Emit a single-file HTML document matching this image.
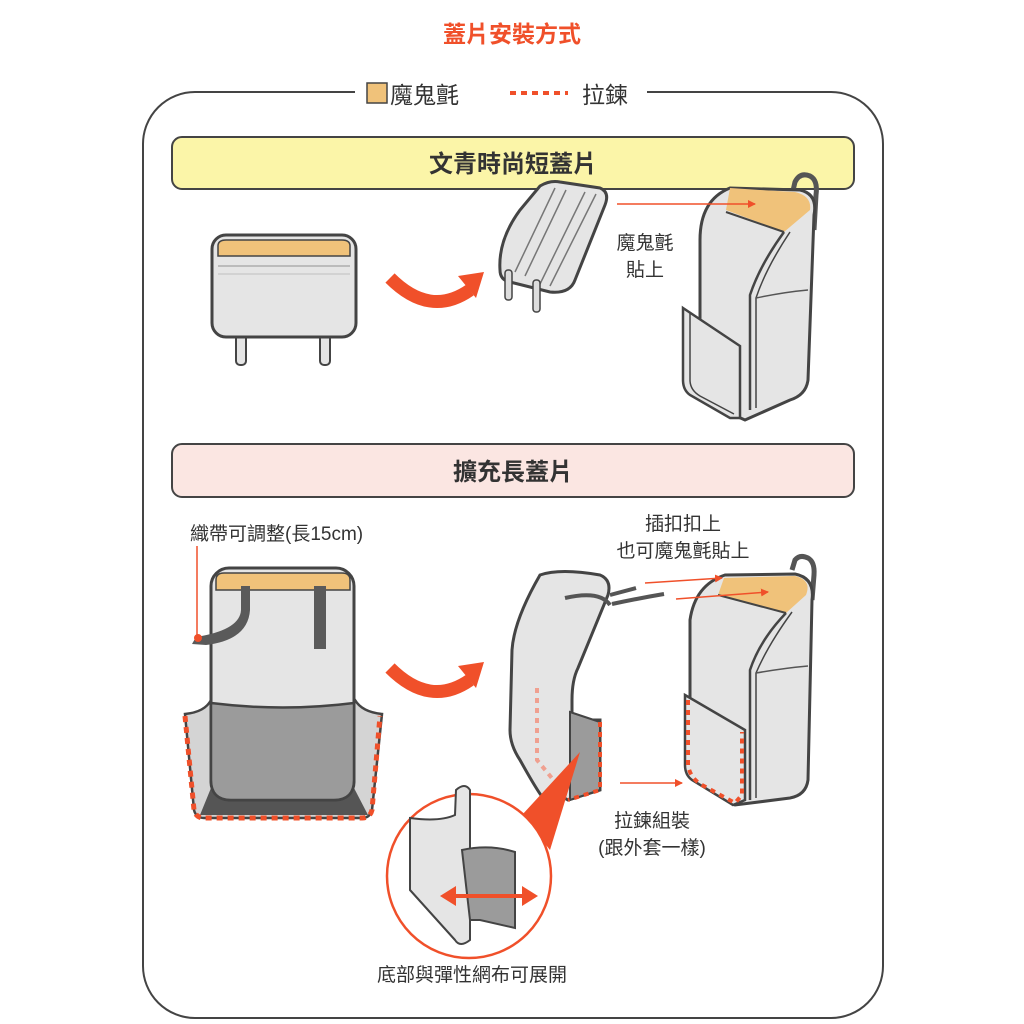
<!DOCTYPE html>
<html><head><meta charset="utf-8"><style>
body{margin:0;background:#fff;}
svg{display:block;}
text{font-family:"Liberation Sans","Noto Sans CJK TC",sans-serif;}
</style></head><body>
<svg width="1024" height="1024" viewBox="0 0 1024 1024" xmlns="http://www.w3.org/2000/svg">
<defs>
<marker id="ah" markerWidth="8" markerHeight="8" refX="7" refY="4" orient="auto" markerUnits="userSpaceOnUse"><path d="M0,0 L8,4 L0,8z" fill="#f0502a"/></marker>
</defs>
<text x="512" y="42" font-size="23" font-weight="bold" fill="#f0502a" text-anchor="middle">蓋片安裝方式</text>
<rect x="143" y="92" width="740" height="926" rx="52" fill="none" stroke="#444" stroke-width="2"/>
<rect x="355" y="80" width="292" height="28" fill="#fff"/>
<rect x="367" y="83" width="20" height="20" fill="#f0c27a" stroke="#444" stroke-width="1.5"/>
<text x="390" y="103" font-size="23" fill="#333">魔鬼氈</text>
<line x1="510" y1="93" x2="568" y2="93" stroke="#f0502a" stroke-width="4" stroke-dasharray="6,5"/>
<text x="582" y="103" font-size="23" fill="#333">拉鍊</text>

<rect x="172" y="137" width="682" height="52" rx="10" fill="#fbf5a8" stroke="#444" stroke-width="2"/>
<text x="513" y="172" font-size="24" font-weight="bold" fill="#333" text-anchor="middle">文青時尚短蓋片</text>
<rect x="172" y="444" width="682" height="53" rx="10" fill="#fbe6e2" stroke="#444" stroke-width="2"/>
<text x="513" y="480" font-size="24" font-weight="bold" fill="#333" text-anchor="middle">擴充長蓋片</text>

<!-- short flap -->
<rect x="236" y="330" width="10" height="35" rx="4" fill="#e5e5e5" stroke="#444" stroke-width="2"/>
<rect x="320" y="330" width="10" height="35" rx="4" fill="#e5e5e5" stroke="#444" stroke-width="2"/>
<rect x="212" y="235" width="144" height="102" rx="14" fill="#e5e5e5" stroke="#444" stroke-width="3"/>
<path d="M218,256 L218,246 Q218,240 226,240 L342,240 Q350,240 350,246 L350,256Z" fill="#f0c27a" stroke="#444" stroke-width="1.5"/>
<line x1="218" y1="266" x2="350" y2="266" stroke="#bbb" stroke-width="2"/>
<line x1="218" y1="274" x2="350" y2="274" stroke="#ccc" stroke-width="1.5"/>

<!-- curved arrows -->
<path d="M390,278 Q430,318 470,290" fill="none" stroke="#f0502a" stroke-width="13"/>
<path d="M458,276 L484,272 L476,298Z" fill="#f0502a"/>
<path d="M390,668 Q430,708 470,680" fill="none" stroke="#f0502a" stroke-width="13"/>
<path d="M458,666 L484,662 L476,688Z" fill="#f0502a"/>

<!-- tilted short flap -->
<path d="M500,270 Q498,240 520,210 L540,186 Q550,180 560,182 L600,188 Q610,192 605,205 L575,280 Q570,294 550,292 L510,282 Q500,280 500,270Z" fill="#e5e5e5" stroke="#444" stroke-width="3"/>
<path d="M515,272 L555,188 M525,276 L566,190 M540,284 L585,192 M550,286 L596,194" stroke="#777" stroke-width="1.5" fill="none"/>
<rect x="505" y="270" width="7" height="30" rx="3" fill="#ddd" stroke="#444" stroke-width="1.5"/>
<rect x="533" y="280" width="7" height="32" rx="3" fill="#ddd" stroke="#444" stroke-width="1.5"/>

<text x="645" y="249" font-size="19" fill="#333" text-anchor="middle">魔鬼氈</text>
<text x="645" y="276" font-size="19" fill="#333" text-anchor="middle">貼上</text>

<!-- backpack top -->
<path d="M792,195 L795,182 Q800,172 810,176 Q818,180 816,195 L814,230" fill="none" stroke="#555" stroke-width="5"/>
<path d="M700,240 Q700,200 730,188 L800,190 Q818,194 814,215 L808,380 Q806,395 790,400 L745,420 L700,400Z" fill="#e5e5e5" stroke="#444" stroke-width="3"/>
<path d="M760,190 L795,192 Q812,196 810,210 L784,232 L726,210 L730,188Z" fill="#f0c27a"/>
<path d="M726,212 L784,232" stroke="#444" stroke-width="2"/>
<path d="M784,232 Q760,265 750,295 L750,410" stroke="#444" stroke-width="2.5" fill="none"/>
<path d="M790,232 Q766,268 756,298 L756,408" stroke="#444" stroke-width="1.5" fill="none"/>
<path d="M756,298 Q785,292 808,290" stroke="#555" stroke-width="1.5" fill="none"/>
<path d="M683,308 L740,346 L740,418 L730,418 L690,395 Q683,390 683,380Z" fill="#e5e5e5" stroke="#444" stroke-width="2.5"/>
<path d="M690,312 L690,380 Q690,390 700,396 L734,414" stroke="#444" stroke-width="1.5" fill="none"/>
<line x1="617" y1="204" x2="755" y2="204" stroke="#f0502a" stroke-width="1.5" marker-end="url(#ah)"/>

<!-- long flap left -->
<text x="190" y="540" font-size="19" fill="#333">織帶可調整(長15cm)</text>
<line x1="197" y1="546" x2="197" y2="638" stroke="#f0502a" stroke-width="1.5"/>
<path d="M185,714 Q205,712 211,700 L211,700 L355,700 Q362,712 382,714 L372,810 Q370,818 362,818 L204,818 Q196,818 194,810Z" fill="#d4d4d4" stroke="#444" stroke-width="2.5"/>
<path d="M211,788 L354,788 L368,815 L200,815Z" fill="#555"/>
<rect x="211" y="568" width="143" height="232" rx="18" fill="#e5e5e5" stroke="#444" stroke-width="3"/>
<path d="M216,590 L216,580 Q216,573 224,573 L342,573 Q350,573 350,580 L350,590Z" fill="#f0c27a" stroke="#444" stroke-width="1.5"/>
<path d="M211,703 L211,780 Q211,800 231,800 L334,800 Q354,800 354,780 L354,703 Q283,712 211,703Z" fill="#9b9b9b" stroke="#444" stroke-width="2.5"/>
<path d="M241,586 L250,586 L250,610 Q248,640 206,645 L192,644 L196,637 Q240,630 241,610Z" fill="#5a5a5a"/>
<circle cx="198" cy="638" r="4" fill="#f0502a"/>
<rect x="314" y="586" width="12" height="63" fill="#5a5a5a"/>
<path d="M185,716 L194,810 Q196,818 204,818 L362,818 Q370,818 372,810 L380,716" fill="none" stroke="#f0502a" stroke-width="5" stroke-dasharray="6,5"/>

<!-- long flap middle -->
<path d="M540,575 Q560,568 600,575 Q612,580 608,595 L578,668 Q572,680 572,700 L572,720 L600,720 L600,790 L568,800 L550,790 L545,800 Q540,796 520,760 Q510,745 510,730 L512,650 Q514,620 540,575Z" fill="#e5e5e5" stroke="#444" stroke-width="3"/>
<path d="M570,712 L600,722 L600,790 L570,800Z" fill="#9b9b9b" stroke="#444" stroke-width="2"/>
<path d="M600,722 L600,790 L568,800" fill="none" stroke="#f0502a" stroke-width="4" stroke-dasharray="5,5"/>
<path d="M537,688 L537,760 L560,788" fill="none" stroke="#f0a090" stroke-width="4" stroke-dasharray="5,5"/>
<path d="M565,598 Q600,590 610,605 M610,595 L636,588 M612,604 Q640,598 664,594" stroke="#555" stroke-width="4" fill="none"/>
<text x="683" y="530" font-size="19" fill="#333" text-anchor="middle">插扣扣上</text>
<text x="683" y="557" font-size="19" fill="#333" text-anchor="middle">也可魔鬼氈貼上</text>

<!-- backpack bottom -->
<path d="M792,570 L795,560 Q800,554 808,558 Q815,562 814,575 L812,600" fill="none" stroke="#555" stroke-width="5"/>
<path d="M690,620 Q695,585 725,575 L795,574 Q815,578 812,600 L808,780 Q806,795 790,798 L735,805 L690,775Z" fill="#e5e5e5" stroke="#444" stroke-width="3"/>
<path d="M724,578 L795,576 Q812,580 806,595 L786,613 L718,595Z" fill="#f0c27a"/>
<path d="M718,595 L786,613" stroke="#444" stroke-width="2"/>
<path d="M786,613 Q760,640 750,670 L750,800" stroke="#444" stroke-width="2.5" fill="none"/>
<path d="M792,612 Q768,645 756,673 L756,798" stroke="#444" stroke-width="1.5" fill="none"/>
<path d="M756,673 Q785,668 808,666" stroke="#555" stroke-width="1.5" fill="none"/>
<path d="M685,695 L745,730 L745,800 L733,805 L692,780 Q685,775 685,765Z" fill="#e5e5e5" stroke="#444" stroke-width="2.5"/>
<path d="M688,700 L688,765 Q690,778 702,785 L735,803 L742,795 L742,732" fill="none" stroke="#f0502a" stroke-width="4" stroke-dasharray="5,5"/>
<line x1="645" y1="583" x2="722" y2="578" stroke="#f0502a" stroke-width="1.5" marker-end="url(#ah)"/>
<line x1="676" y1="599" x2="768" y2="592" stroke="#f0502a" stroke-width="1.5" marker-end="url(#ah)"/>
<line x1="620" y1="783" x2="682" y2="783" stroke="#f0502a" stroke-width="1.5" marker-end="url(#ah)"/>
<text x="652" y="827" font-size="19" fill="#333" text-anchor="middle">拉鍊組裝</text>
<text x="652" y="854" font-size="19" fill="#333" text-anchor="middle">(跟外套一樣)</text>

<!-- zoom circle -->
<path d="M522,815 L580,752 L550,850Z" fill="#f0502a"/>
<circle cx="469" cy="876" r="82" fill="#fff" stroke="#f0502a" stroke-width="2.5"/>
<path d="M410,818 Q440,822 455,815 L456,790 Q465,782 470,790 L470,940 Q460,948 455,940 L410,890Z" fill="#e5e5e5" stroke="#444" stroke-width="2"/>
<path d="M462,850 Q490,844 515,852 L515,928 L480,920 L470,920Z" fill="#9b9b9b" stroke="#444" stroke-width="2"/>
<path d="M410,890 L455,940" stroke="#444" stroke-width="2"/>
<line x1="450" y1="896" x2="528" y2="896" stroke="#f0502a" stroke-width="4"/>
<path d="M440,896 L456,886 L456,906Z M538,896 L522,886 L522,906Z" fill="#f0502a"/>
<text x="472" y="981" font-size="19" fill="#333" text-anchor="middle">底部與彈性網布可展開</text>
</svg>
</body></html>
